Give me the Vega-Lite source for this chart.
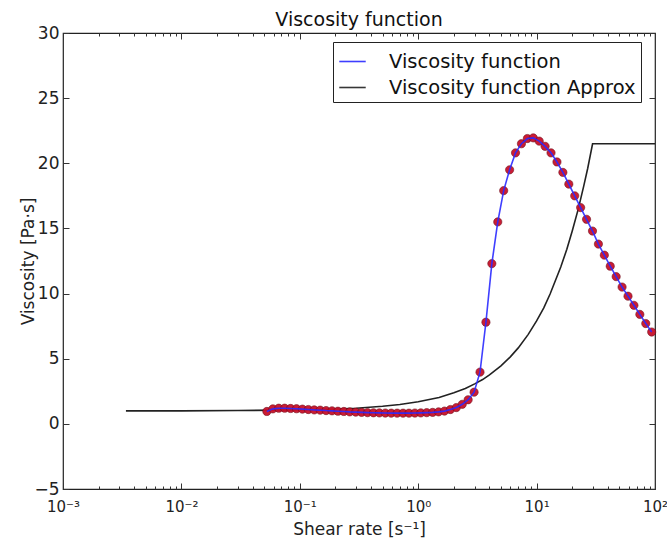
{
  "$schema": "https://vega.github.io/schema/vega-lite/v6.json",
  "autosize": "none",
  "width": 592,
  "height": 456,
  "padding": {"left": 63, "top": 33, "right": 12, "bottom": 57},
  "background": "white",
  "config": {
    "font": "DejaVu Sans",
    "view": {"stroke": "#222222", "strokeWidth": 1.2},
    "axis": {"labelFont": "DejaVu Sans", "titleFont": "DejaVu Sans", "labelColor": "#222222", "titleColor": "#222222", "titleFontWeight": "normal", "grid": false, "domain": false, "tickColor": "#333333"}
  },
  "title": {"text": "Viscosity function", "font": "DejaVu Sans", "fontSize": 19, "fontWeight": "normal", "color": "#111111", "offset": -6},
  "datasets": {
    "approx": [
      {"x": 0.0034, "y": 1.0, "series": "Viscosity function Approx"},
      {"x": 0.01, "y": 1.0, "series": "Viscosity function Approx"},
      {"x": 0.03, "y": 1.02, "series": "Viscosity function Approx"},
      {"x": 0.1, "y": 1.07, "series": "Viscosity function Approx"},
      {"x": 0.2, "y": 1.14, "series": "Viscosity function Approx"},
      {"x": 0.3, "y": 1.2, "series": "Viscosity function Approx"},
      {"x": 0.5, "y": 1.35, "series": "Viscosity function Approx"},
      {"x": 0.7, "y": 1.48, "series": "Viscosity function Approx"},
      {"x": 1.0, "y": 1.7, "series": "Viscosity function Approx"},
      {"x": 1.5, "y": 2.03, "series": "Viscosity function Approx"},
      {"x": 2.0, "y": 2.38, "series": "Viscosity function Approx"},
      {"x": 2.5, "y": 2.72, "series": "Viscosity function Approx"},
      {"x": 3.0, "y": 3.07, "series": "Viscosity function Approx"},
      {"x": 3.5, "y": 3.4, "series": "Viscosity function Approx"},
      {"x": 4.0, "y": 3.76, "series": "Viscosity function Approx"},
      {"x": 5.0, "y": 4.45, "series": "Viscosity function Approx"},
      {"x": 6.0, "y": 5.14, "series": "Viscosity function Approx"},
      {"x": 7.0, "y": 5.83, "series": "Viscosity function Approx"},
      {"x": 8.5, "y": 6.87, "series": "Viscosity function Approx"},
      {"x": 10.0, "y": 7.9, "series": "Viscosity function Approx"},
      {"x": 11.5, "y": 8.9, "series": "Viscosity function Approx"},
      {"x": 13.0, "y": 9.97, "series": "Viscosity function Approx"},
      {"x": 16.0, "y": 12.04, "series": "Viscosity function Approx"},
      {"x": 18.0, "y": 13.4, "series": "Viscosity function Approx"},
      {"x": 20.0, "y": 14.8, "series": "Viscosity function Approx"},
      {"x": 22.5, "y": 16.5, "series": "Viscosity function Approx"},
      {"x": 25.0, "y": 18.25, "series": "Viscosity function Approx"},
      {"x": 27.0, "y": 19.6, "series": "Viscosity function Approx"},
      {"x": 29.7, "y": 21.5, "series": "Viscosity function Approx"},
      {"x": 100.0, "y": 21.5, "series": "Viscosity function Approx"}
    ],
    "visc": [
      {"x": 0.0527, "y": 0.95, "series": "Viscosity function"},
      {"x": 0.0592, "y": 1.15, "series": "Viscosity function"},
      {"x": 0.0664, "y": 1.2, "series": "Viscosity function"},
      {"x": 0.0745, "y": 1.2, "series": "Viscosity function"},
      {"x": 0.0836, "y": 1.18, "series": "Viscosity function"},
      {"x": 0.0938, "y": 1.16, "series": "Viscosity function"},
      {"x": 0.1052, "y": 1.13, "series": "Viscosity function"},
      {"x": 0.118, "y": 1.1, "series": "Viscosity function"},
      {"x": 0.1324, "y": 1.07, "series": "Viscosity function"},
      {"x": 0.1486, "y": 1.05, "series": "Viscosity function"},
      {"x": 0.1667, "y": 1.02, "series": "Viscosity function"},
      {"x": 0.1871, "y": 1.0, "series": "Viscosity function"},
      {"x": 0.2099, "y": 0.97, "series": "Viscosity function"},
      {"x": 0.2355, "y": 0.95, "series": "Viscosity function"},
      {"x": 0.2642, "y": 0.92, "series": "Viscosity function"},
      {"x": 0.2965, "y": 0.9, "series": "Viscosity function"},
      {"x": 0.3327, "y": 0.88, "series": "Viscosity function"},
      {"x": 0.3733, "y": 0.86, "series": "Viscosity function"},
      {"x": 0.4188, "y": 0.85, "series": "Viscosity function"},
      {"x": 0.4699, "y": 0.84, "series": "Viscosity function"},
      {"x": 0.5272, "y": 0.83, "series": "Viscosity function"},
      {"x": 0.5916, "y": 0.82, "series": "Viscosity function"},
      {"x": 0.6637, "y": 0.82, "series": "Viscosity function"},
      {"x": 0.7447, "y": 0.82, "series": "Viscosity function"},
      {"x": 0.8356, "y": 0.82, "series": "Viscosity function"},
      {"x": 0.9376, "y": 0.83, "series": "Viscosity function"},
      {"x": 1.052, "y": 0.84, "series": "Viscosity function"},
      {"x": 1.18, "y": 0.86, "series": "Viscosity function"},
      {"x": 1.324, "y": 0.88, "series": "Viscosity function"},
      {"x": 1.486, "y": 0.92, "series": "Viscosity function"},
      {"x": 1.667, "y": 0.98, "series": "Viscosity function"},
      {"x": 1.871, "y": 1.1, "series": "Viscosity function"},
      {"x": 2.099, "y": 1.25, "series": "Viscosity function"},
      {"x": 2.355, "y": 1.5, "series": "Viscosity function"},
      {"x": 2.642, "y": 1.85, "series": "Viscosity function"},
      {"x": 2.965, "y": 2.43, "series": "Viscosity function"},
      {"x": 3.327, "y": 3.97, "series": "Viscosity function"},
      {"x": 3.733, "y": 7.8, "series": "Viscosity function"},
      {"x": 4.188, "y": 12.3, "series": "Viscosity function"},
      {"x": 4.699, "y": 15.5, "series": "Viscosity function"},
      {"x": 5.272, "y": 17.9, "series": "Viscosity function"},
      {"x": 5.916, "y": 19.5, "series": "Viscosity function"},
      {"x": 6.637, "y": 20.8, "series": "Viscosity function"},
      {"x": 7.447, "y": 21.5, "series": "Viscosity function"},
      {"x": 8.356, "y": 21.9, "series": "Viscosity function"},
      {"x": 9.376, "y": 21.95, "series": "Viscosity function"},
      {"x": 10.52, "y": 21.7, "series": "Viscosity function"},
      {"x": 11.8, "y": 21.3, "series": "Viscosity function"},
      {"x": 13.24, "y": 20.8, "series": "Viscosity function"},
      {"x": 14.86, "y": 20.1, "series": "Viscosity function"},
      {"x": 16.67, "y": 19.3, "series": "Viscosity function"},
      {"x": 18.71, "y": 18.4, "series": "Viscosity function"},
      {"x": 20.99, "y": 17.5, "series": "Viscosity function"},
      {"x": 23.55, "y": 16.6, "series": "Viscosity function"},
      {"x": 26.42, "y": 15.7, "series": "Viscosity function"},
      {"x": 29.65, "y": 14.8, "series": "Viscosity function"},
      {"x": 33.27, "y": 13.8, "series": "Viscosity function"},
      {"x": 37.33, "y": 12.95, "series": "Viscosity function"},
      {"x": 41.88, "y": 12.1, "series": "Viscosity function"},
      {"x": 46.99, "y": 11.3, "series": "Viscosity function"},
      {"x": 52.72, "y": 10.5, "series": "Viscosity function"},
      {"x": 59.16, "y": 9.8, "series": "Viscosity function"},
      {"x": 66.37, "y": 9.1, "series": "Viscosity function"},
      {"x": 74.47, "y": 8.4, "series": "Viscosity function"},
      {"x": 83.56, "y": 7.7, "series": "Viscosity function"},
      {"x": 93.76, "y": 7.05, "series": "Viscosity function"}
    ]
  },
  "layer": [
    {
      "data": {"name": "approx"},
      "mark": {"type": "line", "strokeWidth": 1.6, "clip": true},
      "encoding": {
        "x": {
          "field": "x", "type": "quantitative",
          "scale": {"type": "log", "domain": [0.001, 100], "nice": false},
          "axis": {
            "orient": "bottom",
            "title": "Shear rate [s⁻¹]",
            "titleFontSize": 17,
            "titlePadding": 4,
            "labelFontSize": 15,
            "labelOverlap": false,
            "labelFlush": false,
            "values": [0.001,0.002,0.003,0.004,0.005,0.006,0.007,0.008,0.009,0.01,0.02,0.03,0.04,0.05,0.06,0.07,0.08,0.09,0.1,0.2,0.3,0.4,0.5,0.6,0.7,0.8,0.9,1,2,3,4,5,6,7,8,9,10,20,30,40,50,60,70,80,90,100],
            "labelExpr": "abs(log(datum.value)/LN10 - round(log(datum.value)/LN10)) > 0.01 ? '' : ['10⁻³','10⁻²','10⁻¹','10⁰','10¹','10²'][round(log(datum.value)/LN10)+3]",
            "tickSize": {"condition": {"test": "abs(log(datum.value)/LN10 - round(log(datum.value)/LN10)) > 0.01", "value": -3}, "value": -6},
            "labelPadding": 16
          }
        },
        "y": {
          "field": "y", "type": "quantitative",
          "scale": {"domain": [-5, 30], "nice": false, "zero": false},
          "axis": {
            "orient": "left",
            "title": "Viscosity [Pa·s]",
            "titleFontSize": 17,
            "titlePadding": -4,
            "labelFontSize": 17,
            "values": [-5, 0, 5, 10, 15, 20, 25, 30],
            "tickSize": -6,
            "labelPadding": 10,
            "labelFlush": false
          }
        },
        "color": {
          "field": "series", "type": "nominal",
          "scale": {"domain": ["Viscosity function", "Viscosity function Approx"], "range": ["#2a2aff", "#222222"]},
          "legend": {
            "title": null,
            "orient": "none",
            "legendX": 270,
            "legendY": 9,
            "strokeColor": "#222222",
            "fillColor": "white",
            "padding": 5,
            "symbolType": "stroke",
            "symbolSize": 700,
            "symbolStrokeWidth": 1.6,
            "labelFontSize": 19.5,
            "labelFont": "DejaVu Sans",
            "labelColor": "#111111",
            "labelOffset": 22,
            "rowPadding": 2,
            "labelLimit": 400
          }
        }
      }
    },
    {
      "data": {"name": "visc"},
      "mark": {"type": "point", "shape": "circle", "filled": true, "size": 68, "color": "#c8102a", "stroke": "#6a0a18", "strokeWidth": 0.6, "opacity": 0.95},
      "encoding": {
        "x": {
          "field": "x", "type": "quantitative",
          "scale": {"type": "log", "domain": [0.001, 100], "nice": false},
          "axis": {
            "orient": "top", "title": null, "labels": false,
            "values": [0.001,0.002,0.003,0.004,0.005,0.006,0.007,0.008,0.009,0.01,0.02,0.03,0.04,0.05,0.06,0.07,0.08,0.09,0.1,0.2,0.3,0.4,0.5,0.6,0.7,0.8,0.9,1,2,3,4,5,6,7,8,9,10,20,30,40,50,60,70,80,90,100],
            "tickSize": {"condition": {"test": "abs(log(datum.value)/LN10 - round(log(datum.value)/LN10)) > 0.01", "value": -3}, "value": -6}
          }
        },
        "y": {
          "field": "y", "type": "quantitative",
          "scale": {"domain": [-5, 30], "nice": false, "zero": false},
          "axis": {"orient": "right", "title": null, "labels": false, "values": [-5, 0, 5, 10, 15, 20, 25, 30], "tickSize": -6}
        }
      }
    },
    {
      "data": {"name": "visc"},
      "mark": {"type": "line", "strokeWidth": 1.6, "opacity": 0.9},
      "encoding": {
        "x": {"field": "x", "type": "quantitative", "scale": {"type": "log", "domain": [0.001, 100], "nice": false}, "axis": null},
        "y": {"field": "y", "type": "quantitative", "scale": {"domain": [-5, 30], "nice": false, "zero": false}, "axis": null},
        "color": {"field": "series", "type": "nominal"}
      }
    }
  ],
  "resolve": {"axis": {"x": "independent", "y": "independent"}}
}
